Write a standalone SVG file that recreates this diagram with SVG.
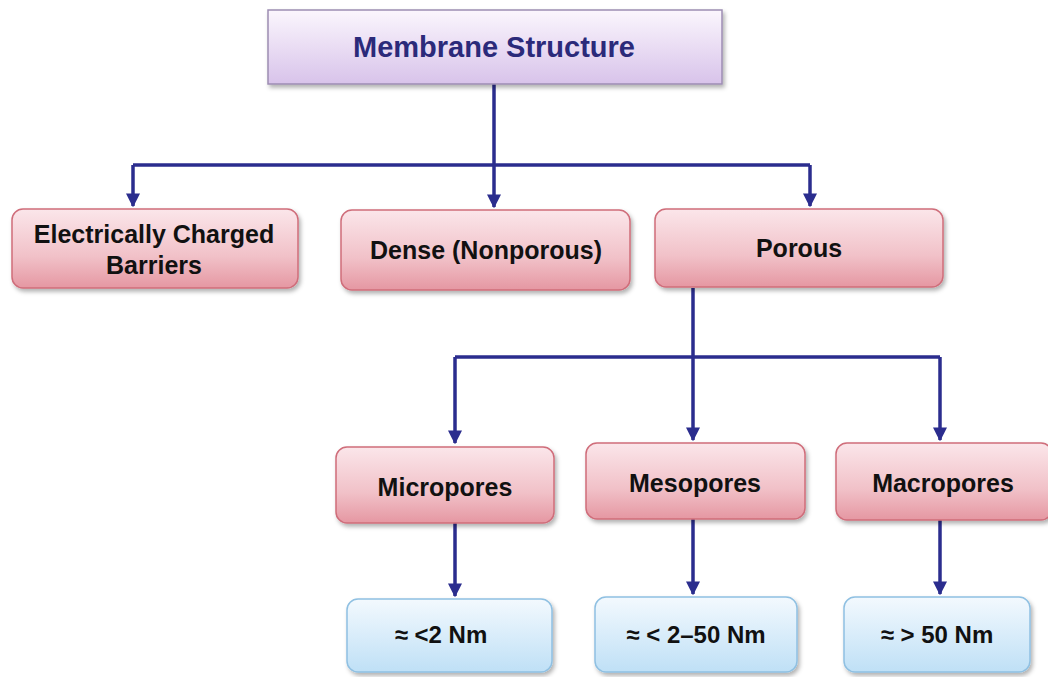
<svg xmlns="http://www.w3.org/2000/svg" width="1048" height="677" viewBox="0 0 1048 677">
<defs>
<linearGradient id="gPurple" x1="0" y1="0" x2="0" y2="1">
<stop offset="0" stop-color="#fbf6fd"/>
<stop offset="1" stop-color="#d8c3ea"/>
</linearGradient>
<linearGradient id="gPink" x1="0" y1="0" x2="0" y2="1">
<stop offset="0" stop-color="#fbe6ea"/>
<stop offset="0.6" stop-color="#f1c1c8"/>
<stop offset="1" stop-color="#e597a2"/>
</linearGradient>
<linearGradient id="gBlue" x1="0" y1="0" x2="0" y2="1">
<stop offset="0" stop-color="#f3f9fe"/>
<stop offset="1" stop-color="#bfe0f6"/>
</linearGradient>
<filter id="sh" x="-10%" y="-10%" width="125%" height="130%">
<feDropShadow dx="2" dy="3" stdDeviation="2" flood-color="#000" flood-opacity="0.3"/>
</filter>
<marker id="ah" markerWidth="4" markerHeight="4" refX="3.6" refY="2" orient="auto" markerUnits="strokeWidth">
<path d="M0,0 L4,2 L0,4 Z" fill="#2b2d8e"/>
</marker>
</defs>
<style>
.title{fill:url(#gPurple);stroke:#9d8db3;stroke-width:1.5;filter:url(#sh)}
.pink{fill:url(#gPink);stroke:#cf6d7a;stroke-width:1.5;filter:url(#sh)}
.blue{fill:url(#gBlue);stroke:#8fc0e2;stroke-width:1.5;filter:url(#sh)}
.t{font-family:"Liberation Sans",Arial,sans-serif;font-weight:bold;text-anchor:middle;fill:#111;font-size:25px}
.b{font-family:"Liberation Sans",Arial,sans-serif;font-weight:bold;text-anchor:middle;fill:#111;font-size:24px}
.tt{font-family:"Liberation Sans",Arial,sans-serif;font-weight:bold;text-anchor:middle;fill:#2b2a7a;font-size:29px}
.c{fill:none;stroke:#2b2d8e;stroke-width:3.5}
</style>
<g id="connectors">
<path class="c" d="M494,84 V165"/>
<path class="c" d="M133,165 H810"/>
<path class="c" d="M133,165 V206" marker-end="url(#ah)"/>
<path class="c" d="M494,165 V207" marker-end="url(#ah)"/>
<path class="c" d="M810,165 V206" marker-end="url(#ah)"/>
<path class="c" d="M693,288 V357"/>
<path class="c" d="M455,357 H940"/>
<path class="c" d="M455,357 V443" marker-end="url(#ah)"/>
<path class="c" d="M693,357 V440" marker-end="url(#ah)"/>
<path class="c" d="M940,357 V440" marker-end="url(#ah)"/>
<path class="c" d="M455,523 V596" marker-end="url(#ah)"/>
<path class="c" d="M693,519 V594" marker-end="url(#ah)"/>
<path class="c" d="M940,520 V594" marker-end="url(#ah)"/>
</g>
<g id="membrane-structure">
<rect class="title" x="268" y="10" width="454" height="74"/>
<text class="tt" x="494" y="57">Membrane Structure</text>
</g>
<g id="electrically-charged">
<rect class="pink" x="12" y="209" width="286" height="79" rx="11"/>
<text class="t" x="154" y="243">Electrically Charged</text>
<text class="t" x="154" y="274">Barriers</text>
</g>
<g id="dense">
<rect class="pink" x="341" y="210" width="289" height="80" rx="11"/>
<text class="t" x="486" y="259">Dense (Nonporous)</text>
</g>
<g id="porous">
<rect class="pink" x="655" y="209" width="288" height="78" rx="11"/>
<text class="t" x="799" y="257">Porous</text>
</g>
<g id="micropores">
<rect class="pink" x="336" y="447" width="218" height="76" rx="11"/>
<text class="t" x="445" y="496">Micropores</text>
</g>
<g id="mesopores">
<rect class="pink" x="586" y="443" width="219" height="76" rx="11"/>
<text class="t" x="695" y="492">Mesopores</text>
</g>
<g id="macropores">
<rect class="pink" x="836" y="443" width="216" height="77" rx="11"/>
<text class="t" x="943" y="492">Macropores</text>
</g>
<g id="micro-size">
<rect class="blue" x="347" y="599" width="205" height="73" rx="11"/>
<text class="b" x="441" y="643">≈ &lt;2 Nm</text>
</g>
<g id="meso-size">
<rect class="blue" x="595" y="597" width="202" height="75" rx="11"/>
<text class="b" x="696" y="643">≈ &lt; 2–50 Nm</text>
</g>
<g id="macro-size">
<rect class="blue" x="844" y="597" width="186" height="75" rx="11"/>
<text class="b" x="937" y="643">≈ &gt; 50 Nm</text>
</g>
</svg>
